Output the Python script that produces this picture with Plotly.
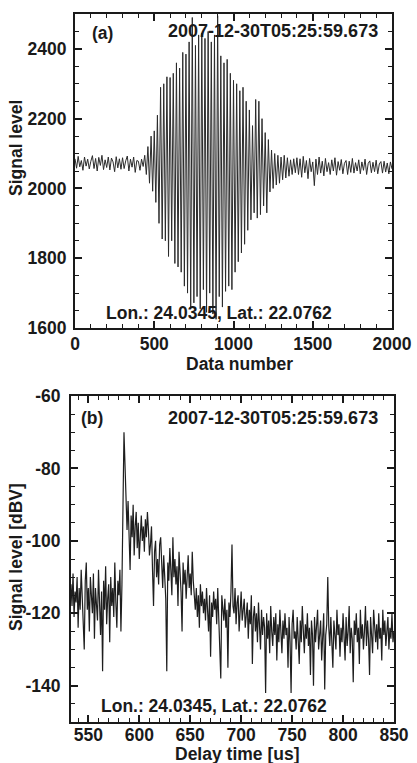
import numpy as np
import plotly.graph_objects as go

# ---------------- data ----------------
# (a) raw signal, sampled every 10 data numbers (0 .. 2000)
data_number = np.arange(0, 2001, 10)
signal_a = [
    2085, 2058, 2092, 2062, 2080, 2052, 2090, 2064, 2084, 2056,
    2078, 2094, 2057, 2086, 2050, 2089, 2066, 2095, 2054, 2082,
    2060, 2090, 2053, 2087, 2076, 2048, 2091, 2059, 2085, 2055,
    2088, 2057, 2079, 2093, 2050, 2084, 2061, 2090, 2046, 2080,
    2078, 2052, 2084, 2063, 2095, 2040, 2120, 2015, 2150, 1992,
    2165, 1960, 2210, 1900, 2290, 1855, 2300, 1850, 2320, 1805,
    2318, 1850, 2330, 1785, 2360, 1775, 2345, 1760, 2390, 1720,
    2385, 1700, 2420, 1660, 2490, 1672, 2410, 1690, 2440, 1655,
    2445, 1710, 2430, 1645, 2450, 1700, 2420, 1640, 2440, 1625,
    2495, 1690, 2380, 1660, 2360, 1705, 2370, 1720, 2330, 1710,
    2310, 1760, 2300, 1790, 2280, 1815, 2290, 1840, 2250, 1880,
    2225, 1910, 2180, 1930, 2255, 1915, 2250, 1925, 2200, 1950,
    2160, 1930, 2140, 1990, 2110, 2000, 2100, 2010, 2095, 2015,
    2090, 2025, 2095, 2030, 2088, 2035, 2082, 2040, 2085, 2045,
    2088, 2040, 2085, 2032, 2092, 2045, 2080, 2028, 2086, 2048,
    2076, 2008, 2084, 2040, 2090, 2044, 2078, 2036, 2086, 2048,
    2074, 2040, 2082, 2050, 2088, 2038, 2077, 2052, 2083, 2042,
    2072, 2080, 2040, 2078, 2046, 2086, 2044, 2074, 2050, 2082,
    2042, 2076, 2052, 2084, 2040, 2072, 2079, 2045, 2075, 2048,
    2081, 2042, 2070, 2077, 2044, 2078, 2047, 2073, 2042, 2076,
    2056,
]

# (b) signal level [dBV] vs delay time [us], 533 .. 850
delay_time = np.arange(533, 851)
signal_b = [
    -112, -118, -109, -121, -114, -117, -110, -124, -113, -119,
    -108, -116, -122, -130, -111, -106, -119, -113, -125, -110,
    -115, -120, -109, -127, -113, -117, -122, -108, -118, -126,
    -114, -136, -111, -119, -107, -123, -116, -112, -128, -110,
    -118, -113, -121, -106, -117, -124, -111, -115, -108, -125,
    -112, -84, -70, -79, -90, -97, -89, -101, -108, -93,
    -99, -90, -104, -96, -92, -102, -95, -105, -98, -93,
    -100, -96, -103, -94, -99, -92, -97, -104, -101, -96,
    -108, -118, -103, -100, -110, -105, -112, -101, -99, -107,
    -113, -104, -109, -116, -136, -106, -111, -102, -108, -115,
    -99, -110, -105, -112, -107, -118, -103, -109, -114, -125,
    -106, -112, -108, -116, -110, -104, -113, -109, -115, -103,
    -111, -117, -119, -113, -121, -115, -124, -112, -118, -114,
    -120, -116, -122, -113, -118, -125, -115, -132, -117, -121,
    -114, -119, -116, -123, -113, -120, -127, -138, -115, -118,
    -122, -116, -124, -119, -135, -117, -121, -114, -101, -118,
    -120, -113, -123, -117, -115, -125, -119, -114, -122, -118,
    -116, -124, -120, -117, -127, -119, -123, -115, -134, -121,
    -118, -125, -120, -128, -117, -123, -130, -119, -126, -121,
    -124, -142, -120, -127, -122, -131, -118, -125, -129, -121,
    -126, -120, -133, -123, -128, -119, -125, -131, -122, -127,
    -120, -126, -124, -135, -121, -128, -142, -123, -119, -127,
    -125, -130, -121, -126, -134, -122, -128, -118, -125, -131,
    -123, -127, -120, -129, -124, -137, -122, -126, -140, -121,
    -128, -124, -119, -130, -125, -122, -133, -127, -120, -141,
    -126, -123, -110, -124, -129, -121, -127, -135, -122, -125,
    -130, -119, -126, -123, -132, -124, -128, -120, -127, -133,
    -121, -129, -125, -118, -131, -124, -127, -139, -122, -126,
    -120, -128, -124, -134, -119, -127, -123, -130, -125, -118,
    -129, -122, -127, -137, -121, -125, -131, -119, -126, -128,
    -123, -130, -120, -127, -124, -133, -119, -126, -122, -129,
    -125, -121, -130, -124, -127, -120, -128, -125,
]

# tick values / labels
xa_ticks = [0, 500, 1000, 1500, 2000]
ya_ticks = [1600, 1800, 2000, 2200, 2400]
xb_ticks = [550, 600, 650, 700, 750, 800, 850]
yb_ticks = [-140, -120, -100, -80, -60]

timestamp = "2007-12-30T05:25:59.673"
location = "Lon.: 24.0345, Lat.: 22.0762"

# ---------------- figure ----------------
W, H = 417, 763


def px_x(p):
    return p / W


def px_y(p):
    return 1 - p / H


FAM = "Liberation Sans, Arial, Helvetica, sans-serif"
TXT = "#1a1a1a"
FS = 17.5
FONT = dict(family=FAM, size=FS, color=TXT, weight="bold")

fig = go.Figure()
fig.add_trace(go.Scatter(x=data_number, y=signal_a, mode="lines",
                         line=dict(color="#2b2b2b", width=1),
                         xaxis="x", yaxis="y", hoverinfo="skip"))
fig.add_trace(go.Scatter(x=delay_time, y=signal_b, mode="lines",
                         line=dict(color="#1e1e1e", width=1.2),
                         xaxis="x2", yaxis="y2", hoverinfo="skip"))

common = dict(showline=True, linecolor=TXT, linewidth=2, mirror="ticks",
              ticks="inside", ticklen=7, tickwidth=1.5, tickcolor=TXT,
              showgrid=False, zeroline=False, tickfont=FONT,
              automargin=False, tickmode="array", fixedrange=True)


def minor(d):
    return dict(dtick=d, ticks="inside", ticklen=4, tickwidth=1.2,
                tickcolor=TXT, showgrid=False)


def labels(vals):
    return [str(v) for v in vals]


fig.update_layout(
    template="none",
    width=W, height=H,
    margin=dict(l=0, r=0, t=0, b=0, pad=0, autoexpand=False),
    paper_bgcolor="white", plot_bgcolor="white",
    showlegend=False, hovermode=False,
    xaxis=dict(domain=[px_x(75), px_x(392)], range=[0, 2000],
               tickvals=xa_ticks, ticktext=labels(xa_ticks),
               minor=dict(minor(100), tick0=0), anchor="y",
               ticklabelstandoff=-1, **common),
    yaxis=dict(domain=[px_y(328), px_y(14)], range=[1600, 2500],
               tickvals=ya_ticks, ticktext=labels(ya_ticks),
               minor=dict(minor(50), tick0=1600), anchor="x",
               ticklabelstandoff=3, **common),
    xaxis2=dict(domain=[px_x(71), px_x(394)], range=[533, 850],
                tickvals=xb_ticks, ticktext=labels(xb_ticks),
                minor=dict(minor(10), tick0=550), anchor="y2",
                ticklabelstandoff=-4, **common),
    yaxis2=dict(domain=[px_y(722), px_y(396)], range=[-150, -60],
                tickvals=yb_ticks, ticktext=labels(yb_ticks),
                minor=dict(minor(5), tick0=-60), anchor="x2",
                ticklabelstandoff=5, **common),
)


def ann(text, x, y, angle=0, size=FS, xanchor="center"):
    fig.add_annotation(text=text, xref="paper", yref="paper",
                       x=px_x(x), y=px_y(y), xanchor=xanchor, yanchor="middle",
                       showarrow=False, textangle=angle,
                       font=dict(family=FAM, size=size, color=TXT, weight="bold"))


# panel (a)
ann("(a)", 102, 33)
ann(timestamp, 273, 31, size=18)
ann(location, 219, 313)
ann("Signal level", 16, 148, angle=-90)
ann("Data number", 239, 364)
# panel (b)
ann("(b)", 92, 418)
ann(timestamp, 273, 418, size=18)
ann(location, 214, 706)
ann("Signal level [dBV]", 16, 557, angle=-90)
ann("Delay time [us]", 237, 754)

# remove the default 8 px page margin so the figure fills the window
fig.write_html("out.html", config={"displayModeBar": False},
               post_script="document.body.style.margin='0px';")
